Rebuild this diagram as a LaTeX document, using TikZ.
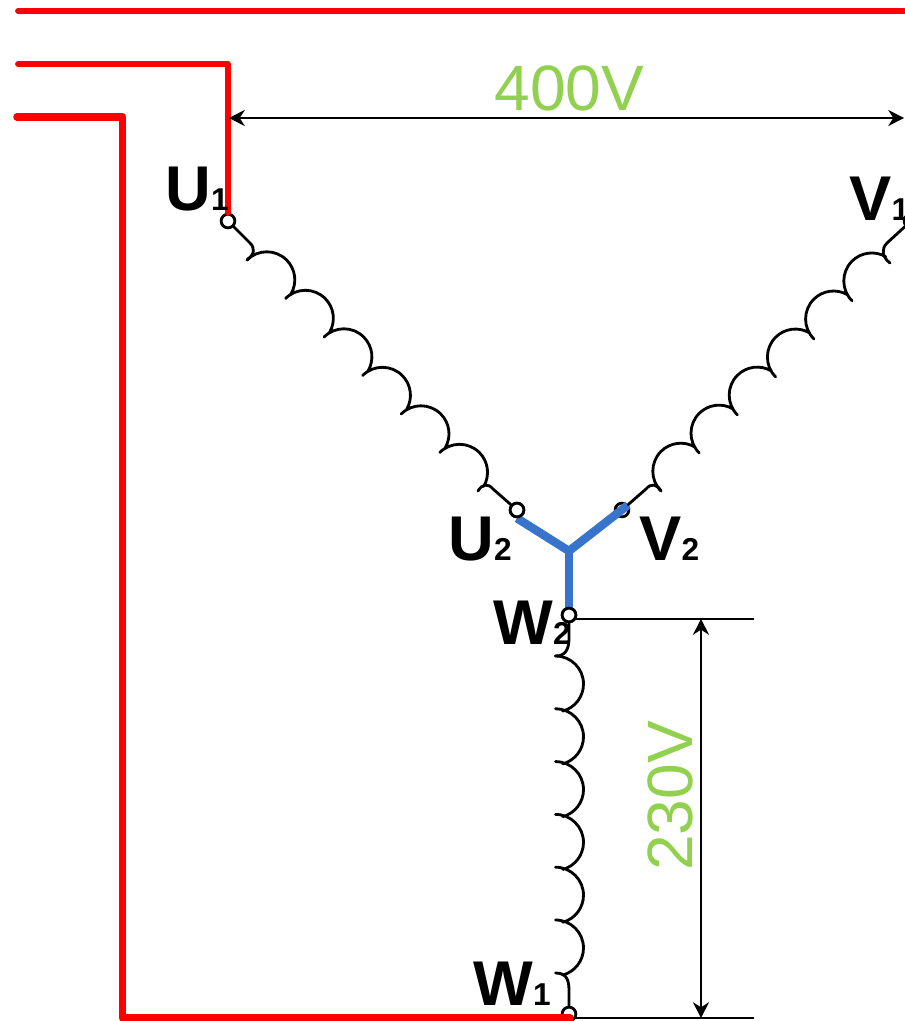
\documentclass[tikz,border=0pt]{standalone}
\usepackage{fontspec}
\setmainfont{Liberation Sans}
\usetikzlibrary{arrows.meta}
\definecolor{wirered}{RGB}{255,0,0}
\definecolor{wireblue}{RGB}{56,116,203}
\definecolor{voltgreen}{RGB}{146,208,80}
\tikzset{
	redthin/.style={line width=3.3pt, color=wirered, line cap=round, line join=round},
	redthick/.style={line width=4.3pt, color=wirered, line cap=round, line join=round},
	starline/.style={line width=4.8pt, color=wireblue, line join=miter},
	coilline/.style={line width=1.6pt, color=black, line cap=round},
	terminal/.style={circle, draw=black, fill=white, line width=1.6pt, minimum size=7.8pt, inner sep=0pt},
	dimline/.style={line width=1.1pt, {Stealth[length=9pt,width=9.2pt]}-{Stealth[length=9pt,width=9.2pt]}},
	extline/.style={line width=1pt},
	phase/.style={anchor=base west, inner sep=0pt, font=\fontsize{36}{36}\selectfont\bfseries},
	volt/.style={inner sep=0pt, text=voltgreen, font=\fontsize{36.5}{36.5}\selectfont}
}
\def\sub#1{{\fontsize{18}{18}\selectfont #1}}
\def\coilrun(#1)(#2:#3:#4)(#5){\draw[coilline] (#1) arc (#2:#3:#4) ++(#5) arc (#2:#3:#4) ++(#5) arc (#2:#3:#4) ++(#5) arc (#2:#3:#4) ++(#5) arc (#2:#3:#4) ++(#5) arc (#2:#3:#4);}
\begin{document}
\begin{tikzpicture}[x=0.02cm, y=-0.02cm]
	\useasboundingbox (0, 0) rectangle (904, 1021);
	
	%%%%% terminals under the star %%%%%
	\node[terminal] (v1) at (911, 221) {};
	\node[terminal] (v2) at (622, 510) {};
	
	%%%%% star point %%%%%
	\coordinate (star) at (569, 551);
	\coordinate (starv) at (628, 505);
	\node[terminal] (u2) at (517, 510) {};
	\node[terminal] (w2) at (569, 615) {};
	\draw[starline] (u2.south) -- (star) -- (starv);
	\draw[starline] (star) -- (w2.north);
	\node[terminal] at (u2) {};
	\node[terminal] at (w2) {};
	
	%%%%% coils %%%%%
	\node[terminal] (u1) at (228, 221) {};
	\node[terminal] (w1) at (569, 1014) {};
	
	\coilrun(247, 260)(225:390:28)(-5.5, 4.7)
	\draw[coilline] (u1) -- (250, 243) .. controls (255, 248) and (255, 254) .. (247, 260);
	\draw[coilline] (478, 491) .. controls (482, 484) and (488, 483) .. (493, 489) -- (u2);
	
	\coilrun(661, 491)(135:300:28)(4.4, 6)
	\draw[coilline] (v1) -- (887, 243) .. controls (881, 249) and (882, 257) .. (890, 263);
	\draw[coilline] (661, 491) .. controls (657, 484) and (651, 483) .. (646, 489) -- (v2);
	
	\coilrun(555.5, 656)(270:435:28)(-7.25, -2.25)
	\draw[coilline] (w2) -- (569, 638) .. controls (569, 650) and (565, 656) .. (555.5, 656);
	\draw[coilline] (555.5, 973) .. controls (565, 973) and (569, 978) .. (569, 990) -- (w1);
	
	%%%%% supply %%%%%
	\draw[redthin] (18, 11) -- (904, 11);
	\draw[redthin] (18, 64) -- (228, 64) -- (u1);
	\draw[redthick] (17, 117) -- (122.5, 117) -- (122.5, 1018) -- (570, 1018);
	
	%%%%% voltages %%%%%
	\coordinate (dimleft) at (229, 118);
	\coordinate (dimright) at (904, 118);
	\coordinate (dimtop) at (701, 619);
	\coordinate (dimbottom) at (701, 1018);
	\coordinate (exttop) at (576, 619);
	\coordinate (exttopend) at (754, 619);
	\coordinate (extbottom) at (573, 1018);
	\coordinate (extbottomend) at (754, 1018);
	\draw[dimline] (dimleft) -- (dimright);
	\draw[dimline] (dimtop) -- (dimbottom);
	\draw[extline] (exttop) -- (exttopend);
	\draw[extline] (extbottom) -- (extbottomend);
	
	\node[volt] (v400) at (569.5, 88) {400V};
	\node[volt, rotate=90] (v230) at (670, 796) {230V};
	
	%%%%% labels %%%%%
	\node[phase] (lu1) at (165, 210) {U\sub{1}};
	\node[phase] (lv1) at (849, 220) {V\sub{1}};
	\node[phase] (lu2) at (448, 560) {U\sub{2}};
	\node[phase] (lv2) at (639, 560) {V\sub{2}};
	\node[phase] (lw2) at (493, 644) {W\sub{2}};
	\node[phase] (lw1) at (473, 1005) {W\sub{1}};
\end{tikzpicture}
\end{document}
